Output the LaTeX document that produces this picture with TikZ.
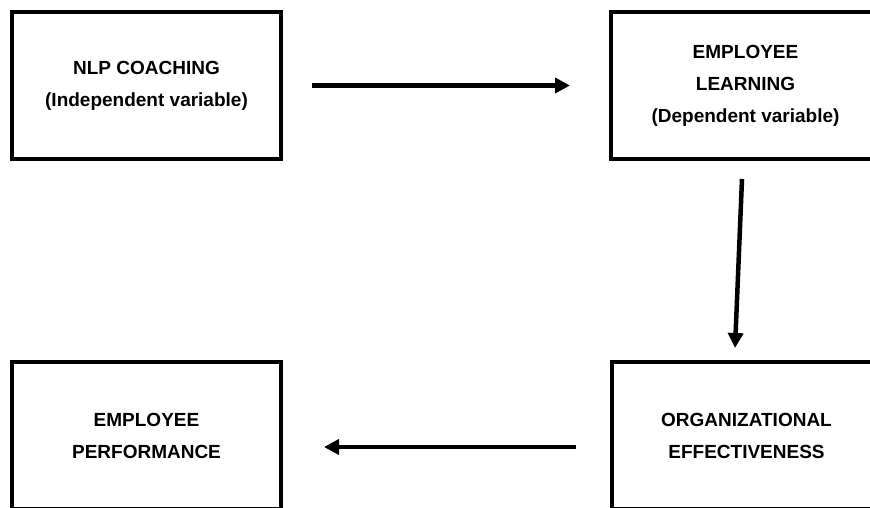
\documentclass[tikz,border=0pt]{standalone}
\usepackage{fontspec}
\setmainfont{Liberation Sans}
\usetikzlibrary{arrows.meta}
\begin{document}
\begin{tikzpicture}[x=1pt,y=1pt,
  varbox/.style={draw=black, line width=4pt, minimum width=269pt, minimum height=147pt,
    inner sep=0pt, align=center, font=\fontsize{19}{32}\selectfont\bfseries},
  flow/.style={line width=4.5pt, -{Triangle[length=15pt,width=15pt]}}]
\clip (0,0) rectangle (870,507);
\fill[white] (0,0) rectangle (870,507);
\node[varbox] (tl) at (146.5,421.5) {NLP COACHING\\(Independent variable)};
\node[varbox] (tr) at (745.5,421.5) {EMPLOYEE\\LEARNING\\(Dependent variable)};
\node[varbox] (bl) at (146.5,71.5) {EMPLOYEE\\PERFORMANCE};
\node[varbox] (br) at (746.5,71.5) {ORGANIZATIONAL\\EFFECTIVENESS};
\draw[flow] ([xshift=29pt]tl.east) -- ([xshift=-39pt]tr.west);
\draw[flow] ([xshift=-3.5pt,yshift=-18pt]tr.south) -- ([xshift=-11.5pt,yshift=12pt]br.north);
\draw[flow] ([xshift=-34pt,yshift=-11.5pt]br.west) -- ([xshift=41pt,yshift=-11.5pt]bl.east);
\end{tikzpicture}
\end{document}
